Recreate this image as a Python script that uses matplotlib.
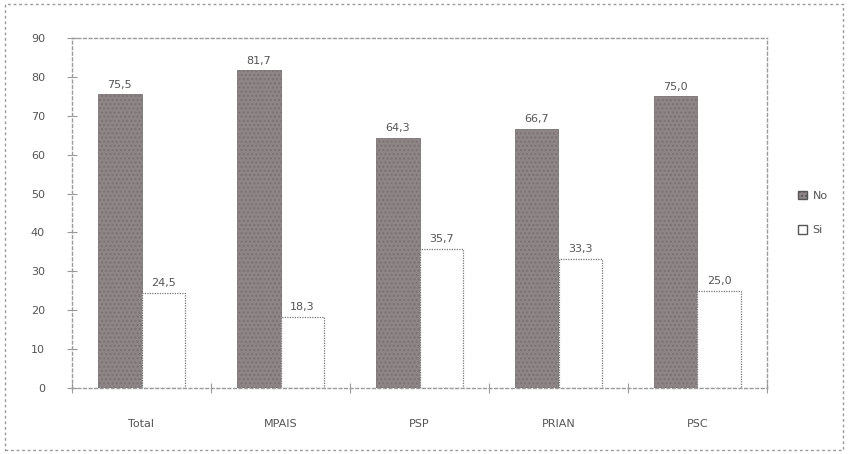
import matplotlib.pyplot as plt
import matplotlib.patches as mpatches
import numpy as np

categories = ["Total", "MPAIS", "PSP", "PRIAN", "PSC"]
no_vals = [75.5, 81.7, 64.3, 66.7, 75.0]
si_vals = [24.5, 18.3, 35.7, 33.3, 25.0]
no_labels = ["75,5", "81,7", "64,3", "66,7", "75,0"]
si_labels = ["24,5", "18,3", "35,7", "33,3", "25,0"]

txt = "#555555"
dark = "#8e8686"
line = "#9a9a9a"

fig = plt.figure(figsize=(8.48, 4.54), dpi=100)
ax = fig.add_axes([72/848, 66/454, 695/848, 350/454])

x = np.arange(len(categories))
w = 0.315
ax.bar(x - w/2, no_vals, w, color=dark, edgecolor="#7a7272", linewidth=0.6, hatch="....")
ax.bar(x + w/2, si_vals, w, color="white", edgecolor="#777777", linewidth=0.9, linestyle=(0, (1, 1)))

for xi, v, s in zip(x, no_vals, no_labels):
    ax.text(xi - w/2, v + 1.2, s, ha="center", va="bottom", fontsize=8, color=txt)
for xi, v, s in zip(x, si_vals, si_labels):
    ax.text(xi + w/2, v + 1.2, s, ha="center", va="bottom", fontsize=8, color=txt)

ax.set_xlim(-0.5, 4.5)
ax.set_ylim(0, 90)
ax.set_yticks(range(0, 91, 10))
ax.set_xticks(np.arange(-0.5, 4.6, 1))
ax.set_xticklabels([])
ax.set_xticks(x, minor=True)
ax.set_xticklabels(categories, minor=True)
ax.tick_params(axis="x", which="minor", length=0, pad=22, labelsize=8, labelcolor=txt)
ax.tick_params(axis="x", which="major", direction="inout", length=7, color=line)
ax.tick_params(axis="y", direction="inout", length=7, color=line, labelsize=8, labelcolor=txt, pad=16)
for sp in ax.spines.values():
    sp.set_color(line)
    sp.set_linestyle((0, (2, 2)))
    sp.set_linewidth(1.0)

handles = [mpatches.Patch(facecolor=dark, edgecolor="#555555", hatch="....", label="No"),
           mpatches.Patch(facecolor="white", edgecolor="#555555", label="Si")]
fig.legend(handles=handles, loc="center left", bbox_to_anchor=(788/848, 1 - 213/454),
           frameon=False, fontsize=8, labelcolor=txt, handlelength=0.8, handleheight=0.8,
           handletextpad=0.5, labelspacing=2.2)

fig.patches.append(mpatches.Rectangle((5/848, 4/454), 838/848, 446/454, transform=fig.transFigure,
                                      fill=False, edgecolor=line, linestyle=(0, (2, 2)), linewidth=1.0))

fig.savefig("out.png", dpi=100)
